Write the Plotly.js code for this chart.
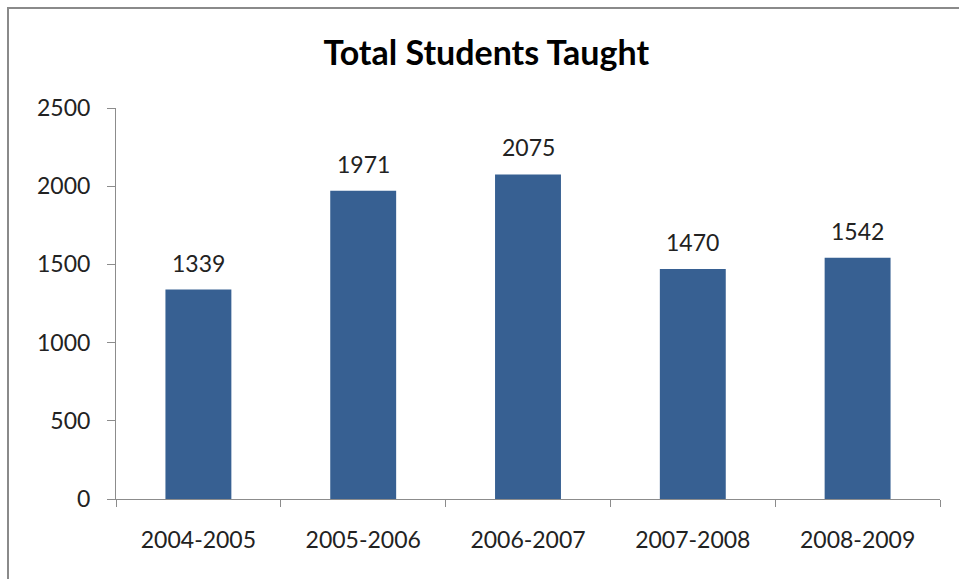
<!DOCTYPE html>
<html>
<head>
<meta charset="utf-8">
<script src="https://cdn.plot.ly/plotly-3.0.1.min.js"></script>
<style>
html,body{margin:0;padding:0;background:#fff;overflow:hidden;}
#frame{position:absolute;left:7px;top:7px;width:1000px;height:700px;border-top:2px solid #8a8a8a;border-left:2px solid #8a8a8a;box-sizing:border-box;pointer-events:none;z-index:5;}
#chart{position:absolute;left:0;top:0;width:959px;height:579px;}
</style>
</head>
<body>
<div id="chart"></div>
<div id="frame"></div>
<script>
const categories = ["2004-2005","2005-2006","2006-2007","2007-2008","2008-2009"];
const students = [1339, 1971, 2075, 1470, 1542];
const yTicks = [0, 500, 1000, 1500, 2000, 2500];

const font = "Lato, 'Open Sans', sans-serif";

const trace = {
  type: "bar",
  x: categories,
  y: students,
  marker: {color: "#376092"},
  hoverinfo: "x+y"
};

const annotations = categories.map((c, i) => ({
  x: c, y: students[i], xref: "x", yref: "y",
  text: String(students[i]), showarrow: false,
  yanchor: "bottom", yshift: 11,
  font: {family: font, size: 23, color: "#222"}
}));

const layout = {
  width: 959, height: 579,
  margin: {l: 116, r: 19, t: 108, b: 80},
  paper_bgcolor: "#fff", plot_bgcolor: "#fff",
  bargap: 0.6,
  showlegend: false,
  title: {text: "<b>Total Students Taught</b>", x: 0.507, xanchor: "center", y: 0.908, yanchor: "middle",
          font: {family: font, size: 34, color: "#000"}},
  xaxis: {
    type: "category", showgrid: false, zeroline: false,
    showline: true, linecolor: "#8c8c8c", linewidth: 1,
    ticks: "outside", tickson: "boundaries", ticklen: 7, tickcolor: "#8c8c8c",
    tickfont: {family: font, size: 23, color: "#222"}, ticklabelstandoff: 20
  },
  yaxis: {
    range: [0, 2500], tickvals: yTicks, ticktext: yTicks.map(String),
    showgrid: false, zeroline: false,
    showline: true, linecolor: "#8c8c8c", linewidth: 1,
    ticks: "outside", ticklen: 8, tickcolor: "#8c8c8c",
    tickfont: {family: font, size: 23, color: "#222"}, ticklabelstandoff: 12
  },
  annotations: annotations
};

Plotly.newPlot("chart", [trace], layout, {displayModeBar: false, staticPlot: true});
</script>
</body>
</html>
